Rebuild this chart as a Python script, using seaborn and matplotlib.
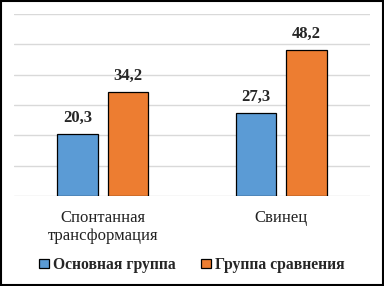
import pandas as pd
import matplotlib.pyplot as plt
import seaborn as sns
from matplotlib.patches import Rectangle

# data
categories = ["Спонтанная\nтрансформация", "Свинец"]
groups = ["Основная группа", "Группа сравнения"]
main_vals = [20.3, 27.3]
comp_vals = [34.2, 48.2]
colors = ["#5B9BD5", "#ED7D31"]

df = pd.DataFrame({
    "category": categories * 2,
    "group": [groups[0]] * 2 + [groups[1]] * 2,
    "value": main_vals + comp_vals,
})

sns.set_style("white")
plt.rcParams["font.family"] = ["Liberation Serif", "DejaVu Serif"]

fig = plt.figure(figsize=(3.84, 2.86), dpi=100)
ax = fig.add_axes([0.036, 0.315, 0.928, 0.636])

sns.barplot(data=df, x="category", y="value", hue="group", palette=colors,
            saturation=1, width=0.567, gap=0.2, edgecolor="black",
            linewidth=0.9, ax=ax, zorder=3)

ax.set_ylim(0, 60)
ax.set_yticks(range(0, 61, 10))
ax.yaxis.grid(True, color="#D9D9D9", linewidth=1.0, zorder=0)
ax.set_axisbelow(True)
ax.tick_params(axis="y", left=False, labelleft=False)
ax.tick_params(axis="x", bottom=False, labelsize=12, pad=7, colors="#222222")
for lbl in ax.get_xticklabels():
    lbl.set_linespacing(1.1)
for s in ["top", "right", "left", "bottom"]:
    ax.spines[s].set_visible(False)
ax.set_xlabel("")
ax.set_ylabel("")

for cont in ax.containers:
    labels = [f"{v:.1f}".replace(".", ",") for v in cont.datavalues]
    ax.bar_label(cont, labels=labels, padding=6, fontsize=12, fontweight="bold")

sns.move_legend(ax, "center", bbox_to_anchor=(0.5, -0.38), ncol=2, title=None,
                frameon=False, prop={"weight": "bold", "size": 11.3},
                handlelength=0.6, handleheight=0.6, handletextpad=0.3,
                columnspacing=1.6)

fig.patches.append(Rectangle((0.002, 0.003), 0.995, 0.994, transform=fig.transFigure,
                             fill=False, edgecolor="black", linewidth=1.5))

fig.savefig("out.png", dpi=100)
